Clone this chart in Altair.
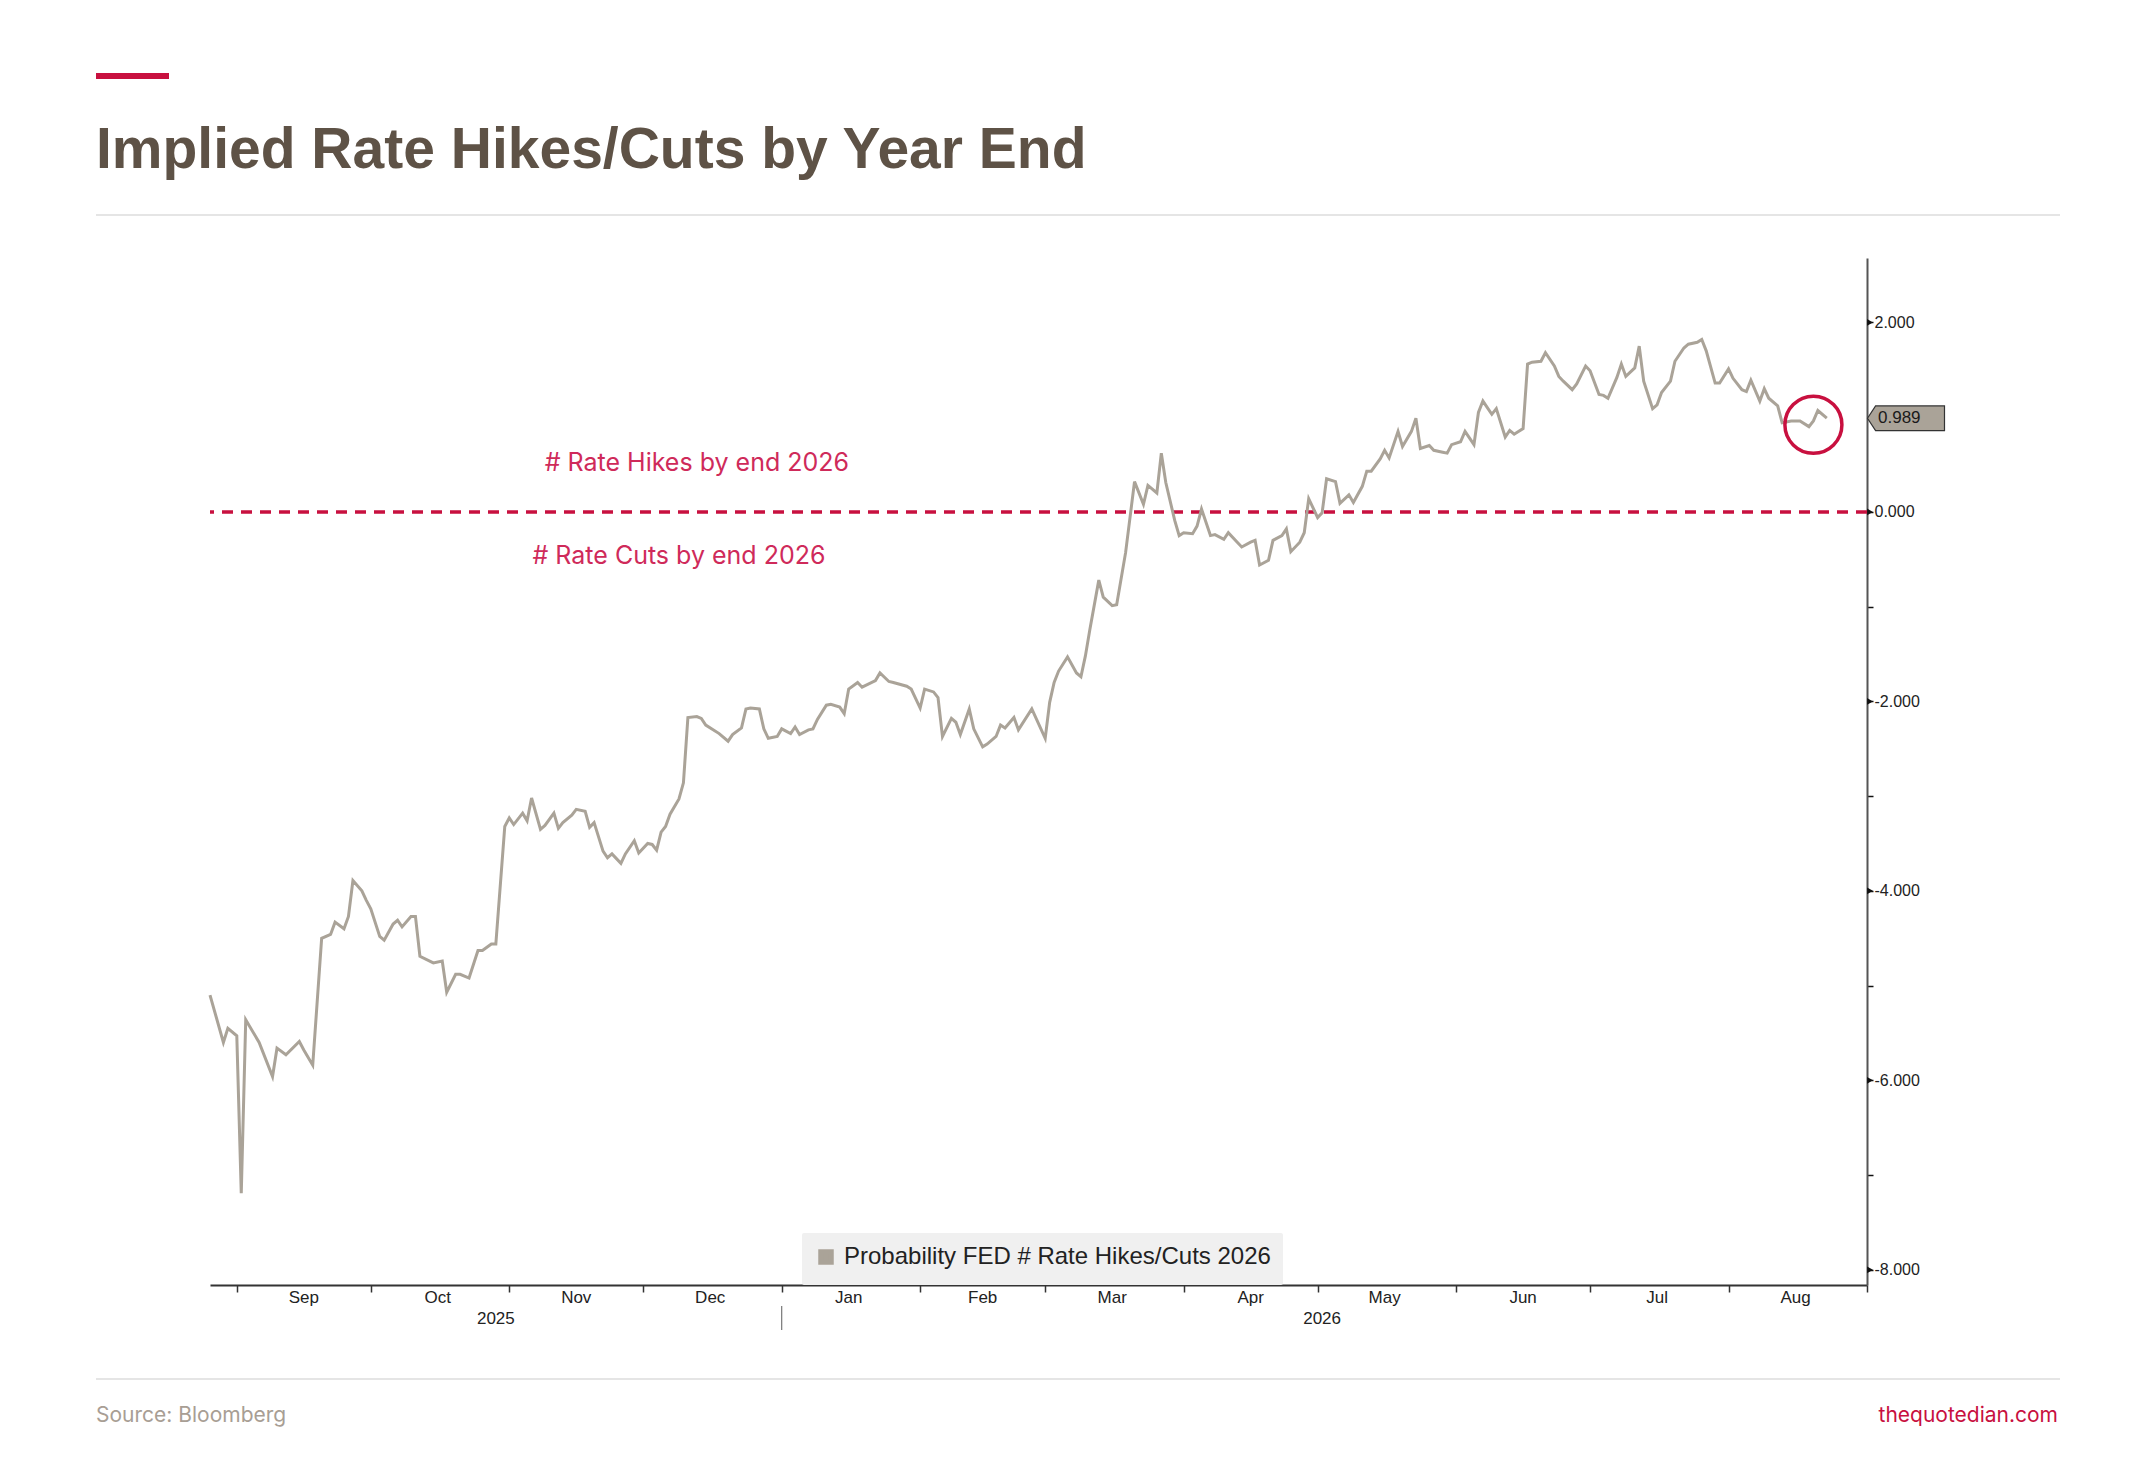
import pandas as pd
import altair as alt

# days after 26 Aug 2025 and the implied number of hikes/cuts read at that day
start = pd.Timestamp('2025-08-26')
days = [
    0, 3, 4, 6, 7, 8, 11, 14, 15, 17,
    20, 21, 23, 25, 27, 28, 30, 31, 32, 34,
    35, 36, 38, 39, 41, 42, 43, 45, 46, 47,
    50, 52, 53, 55, 56, 58, 60, 61, 63, 64,
    66, 67, 68, 70, 71, 72, 74, 75, 77, 78,
    79, 81, 82, 84, 85, 86, 88, 89, 90, 92,
    93, 95, 96, 98, 99, 100, 101, 102, 103, 105,
    106, 107, 109, 110, 111, 114, 116, 117, 119, 120,
    121, 123, 124, 125, 127, 128, 130, 131, 132, 134,
    135, 136, 138, 139, 141, 142, 143, 145, 146, 149,
    150, 152, 153, 156, 157, 159, 160, 162, 163, 164,
    166, 167, 168, 170, 171, 173, 174, 176, 177, 178,
    180, 181, 184, 187, 188, 189, 190, 192, 194, 195,
    196, 197, 199, 200, 202, 203, 205, 207, 209, 210,
    212, 213, 214, 216, 217, 218, 220, 221, 222, 224,
    225, 227, 228, 230, 231, 233, 234, 235, 237, 238,
    240, 241, 242, 244, 245, 246, 248, 249, 250, 252,
    253, 255, 256, 258, 259, 260, 262, 263, 264, 266,
    267, 269, 270, 271, 273, 274, 276, 277, 278, 280,
    281, 283, 284, 285, 287, 288, 290, 291, 292, 294,
    295, 296, 298, 299, 301, 302, 303, 305, 306, 308,
    309, 311, 312, 313, 315, 316, 317, 319, 320, 321,
    323, 324, 325, 327, 328, 330, 331, 333, 334, 335,
    337, 338, 340, 341, 343, 344, 345, 347, 348, 349,
    351, 352, 354, 356, 358, 359, 360, 362,
]
hikes = [
    -5.10, -5.60, -5.45, -5.53, -7.19, -5.36, -5.60, -5.96, -5.66, -5.73,
    -5.59, -5.68, -5.84, -4.50, -4.46, -4.33, -4.40, -4.27, -3.89, -4.00,
    -4.10, -4.19, -4.48, -4.52, -4.35, -4.31, -4.38, -4.27, -4.27, -4.69,
    -4.76, -4.74, -5.07, -4.88, -4.88, -4.92, -4.63, -4.63, -4.56, -4.56,
    -3.32, -3.23, -3.30, -3.18, -3.26, -3.02, -3.35, -3.31, -3.18, -3.34,
    -3.28, -3.20, -3.14, -3.16, -3.33, -3.28, -3.58, -3.65, -3.61, -3.71,
    -3.61, -3.47, -3.60, -3.50, -3.51, -3.57, -3.38, -3.32, -3.19, -3.03,
    -2.86, -2.17, -2.16, -2.18, -2.25, -2.34, -2.42, -2.35, -2.28, -2.08,
    -2.07, -2.08, -2.29, -2.39, -2.37, -2.29, -2.34, -2.27, -2.35, -2.30,
    -2.29, -2.19, -2.04, -2.03, -2.06, -2.13, -1.87, -1.80, -1.85, -1.78,
    -1.70, -1.79, -1.80, -1.84, -1.87, -2.07, -1.87, -1.90, -1.96, -2.37,
    -2.18, -2.22, -2.35, -2.08, -2.29, -2.48, -2.45, -2.37, -2.25, -2.28,
    -2.17, -2.30, -2.08, -2.39, -2.01, -1.80, -1.68, -1.53, -1.70, -1.74,
    -1.52, -1.24, -0.72, -0.90, -0.99, -0.98, -0.43, 0.32, 0.08, 0.28,
    0.20, 0.62, 0.31, -0.09, -0.25, -0.22, -0.23, -0.15, 0.03, -0.25,
    -0.24, -0.29, -0.22, -0.32, -0.37, -0.32, -0.30, -0.56, -0.51, -0.30,
    -0.25, -0.18, -0.42, -0.32, -0.22, 0.14, -0.06, -0.01, 0.35, 0.32,
    0.09, 0.18, 0.10, 0.27, 0.43, 0.43, 0.56, 0.65, 0.57, 0.85,
    0.69, 0.85, 0.99, 0.67, 0.70, 0.65, 0.63, 0.62, 0.71, 0.74,
    0.85, 0.71, 1.05, 1.17, 1.03, 1.09, 0.79, 0.86, 0.82, 0.88,
    1.56, 1.58, 1.59, 1.68, 1.54, 1.43, 1.38, 1.29, 1.35, 1.54,
    1.49, 1.24, 1.23, 1.20, 1.42, 1.56, 1.43, 1.52, 1.75, 1.38,
    1.09, 1.13, 1.26, 1.38, 1.59, 1.73, 1.77, 1.79, 1.82, 1.70,
    1.36, 1.36, 1.51, 1.41, 1.29, 1.27, 1.39, 1.17, 1.30, 1.20,
    1.12, 0.94, 0.96, 0.96, 0.90, 0.96, 1.07, 0.989,
]
series_name = 'Probability FED # Rate Hikes/Cuts 2026'

month_names = ['Sep', 'Oct', 'Nov', 'Dec', 'Jan', 'Feb', 'Mar', 'Apr', 'May', 'Jun', 'Jul', 'Aug']
month_mid = ['2025-09-16', '2025-10-16', '2025-11-16', '2025-12-16', '2026-01-16', '2026-02-15',
             '2026-03-16', '2026-04-16', '2026-05-16', '2026-06-16', '2026-07-16', '2026-08-16']
year_names = ['2025', '2026']
year_mid = ['2025-10-29', '2026-05-02']
y_ticks = [-8, -7, -6, -5, -4, -3, -2, -1, 0, 1, 2]
y_labelled = [-8, -6, -4, -2, 0, 2]

last_value = 0.989
circle_date = '2026-08-20'
circle_value = 0.92

notes = ['# Rate Hikes by end 2026', '# Rate Cuts by end 2026']
note_dates = ['2025-12-13', '2025-12-09']
note_values = [0.52, -0.47]

W, H = 1657, 1027
GREY = '#aaa398'
CRIMSON = '#c8103f'
NARROW = 'Liberation Sans Narrow, Liberation Sans, sans-serif'

df = pd.DataFrame({
    'date': start + pd.to_timedelta(days, unit='D'),
    'value': hikes,
    'series': series_name,
})
months = pd.DataFrame({'date': pd.to_datetime(month_mid), 'label': month_names})
years = pd.DataFrame({'date': pd.to_datetime(year_mid), 'label': year_names})
month_starts = [alt.DateTime(year=d.year, month=d.month, date=1)
                for d in pd.date_range('2025-09-01', '2026-09-01', freq='MS')]

x_scale = alt.Scale(domain=[alt.DateTime(year=2025, month=8, date=26),
                            alt.DateTime(year=2026, month=9, date=1)])
y_scale = alt.Scale(domain=[-8.16, 2.68], nice=False, zero=False)

base = alt.Chart(df)

line = base.mark_line(strokeWidth=3).encode(
    x=alt.X('date:T', scale=x_scale, title=None,
            axis=alt.Axis(values=month_starts, labels=False, grid=False, domainColor='#333333',
                          domainWidth=2, tickColor='#333333', tickSize=7, tickWidth=1.5)),
    y=alt.Y('value:Q', scale=y_scale, title=None,
            axis=alt.Axis(orient='right', values=y_ticks, grid=False, domainColor='#555555',
                          domainWidth=2, tickColor='#111111', tickSize=6, tickWidth=1.5,
                          labelPadding=1, labelFont=NARROW, labelFontSize=16, labelColor='#222222',
                          labelExpr="datum.value % 2 == 0 ? replace(format(datum.value, '.3f'), '\u2212', '-') : ''")),
    color=alt.Color('series:N', scale=alt.Scale(domain=[series_name], range=[GREY]),
                    legend=alt.Legend(title=None, orient='none', legendX=592, legendY=975,
                                      fillColor='#f0f0f0', padding=12, cornerRadius=2,
                                      symbolType='square', symbolSize=110, symbolStrokeWidth=5,
                                      symbolFillColor=GREY, labelFont=NARROW, labelFontSize=24,
                                      labelLimit=0, labelColor='#222222', labelOffset=6)),
)

zero = alt.Chart(pd.DataFrame({'value': [0]})).mark_rule(
    color=CRIMSON, strokeWidth=3.5, strokeDash=[11, 8]
).encode(y=alt.Y('value:Q', scale=y_scale))

tri = alt.Chart(pd.DataFrame({'value': y_labelled})).mark_point(
    shape='triangle-right', filled=True, color='#111111', size=45, opacity=1
).encode(x=alt.value(W + 3), y=alt.Y('value:Q', scale=y_scale))

notes_layer = alt.Chart(pd.DataFrame({
    'date': pd.to_datetime(note_dates), 'value': note_values, 'label': notes
})).mark_text(font='Inter', fontSize=25, color='#cf2a5a', align='center', baseline='middle').encode(
    x=alt.X('date:T', scale=x_scale), y=alt.Y('value:Q', scale=y_scale), text='label:N')

circle = alt.Chart(pd.DataFrame({'date': [pd.Timestamp(circle_date)], 'value': [circle_value]})).mark_point(
    shape='circle', size=3250, filled=False, color=CRIMSON, strokeWidth=3.5, opacity=1
).encode(x=alt.X('date:T', scale=x_scale), y=alt.Y('value:Q', scale=y_scale))

tag_df = pd.DataFrame({'value': [last_value], 'label': [f'{last_value:.3f}']})
tag = alt.Chart(tag_df).mark_point(
    shape='M -1 0 L -0.79 -0.32 L 1 -0.32 L 1 0.32 L -0.79 0.32 Z',
    size=77 * 77, filled=True, fill=GREY, stroke='#333333', strokeWidth=1.2, opacity=1
).encode(x=alt.value(W + 39), y=alt.Y('value:Q', scale=y_scale))
tag_text = alt.Chart(tag_df).mark_text(
    font=NARROW, fontSize=17, color='#1a1a1a', align='left', baseline='middle'
).encode(x=alt.value(W + 11), y=alt.Y('value:Q', scale=y_scale), text='label:N')

month_text = alt.Chart(months).mark_text(
    font=NARROW, fontSize=17, color='#222222', baseline='middle'
).encode(x=alt.X('date:T', scale=x_scale), y=alt.value(H + 13), text='label:N')
year_text = alt.Chart(years).mark_text(
    font=NARROW, fontSize=17, color='#222222', baseline='middle'
).encode(x=alt.X('date:T', scale=x_scale), y=alt.value(H + 34), text='label:N')
year_split = alt.Chart(pd.DataFrame({'date': [pd.Timestamp('2026-01-01')]})).mark_rule(
    color='#777777', strokeWidth=1.2
).encode(x=alt.X('date:T', scale=x_scale), y=alt.value(H + 21), y2=alt.value(H + 45))

# page furniture: red bar, title, separators, footer
one = pd.DataFrame({'k': [0]})
red_bar = alt.Chart(one).mark_rule(color=CRIMSON, strokeWidth=6).encode(
    x=alt.value(-114), x2=alt.value(-41), y=alt.value(-182))
title = alt.Chart(one).mark_text(
    text='Implied Rate Hikes/Cuts by Year End', font='Liberation Sans', fontSize=57,
    fontWeight='bold', color='#5e5246', align='left', baseline='alphabetic'
).encode(x=alt.value(-114), y=alt.value(-90))
top_sep = alt.Chart(one).mark_rule(color='#dddddd', strokeWidth=1.5).encode(
    x=alt.value(-114), x2=alt.value(1850), y=alt.value(-43))
bottom_sep = alt.Chart(one).mark_rule(color='#dddddd', strokeWidth=1.5).encode(
    x=alt.value(-114), x2=alt.value(1850), y=alt.value(1121))
source = alt.Chart(one).mark_text(
    text='Source: Bloomberg', font='Inter', fontSize=21, color='#a89e94', align='left', baseline='middle'
).encode(x=alt.value(-114), y=alt.value(1158))
site = alt.Chart(one).mark_text(
    text='thequotedian.com', font='Inter', fontSize=21, color=CRIMSON, align='right', baseline='middle'
).encode(x=alt.value(1848), y=alt.value(1158))

chart = alt.layer(
    zero, line, tri, notes_layer, circle, tag, tag_text, month_text, year_text, year_split,
    red_bar, title, top_sep, bottom_sep, source, site
).properties(
    width=W, height=H,
    background='white',
    autosize=alt.AutoSizeParams(type='none'),
    padding={'left': 202, 'top': 250, 'right': 270, 'bottom': 165},
).configure_view(
    strokeWidth=0
)

chart.save('out.html', embed_options={'renderer': 'svg', 'actions': False})
